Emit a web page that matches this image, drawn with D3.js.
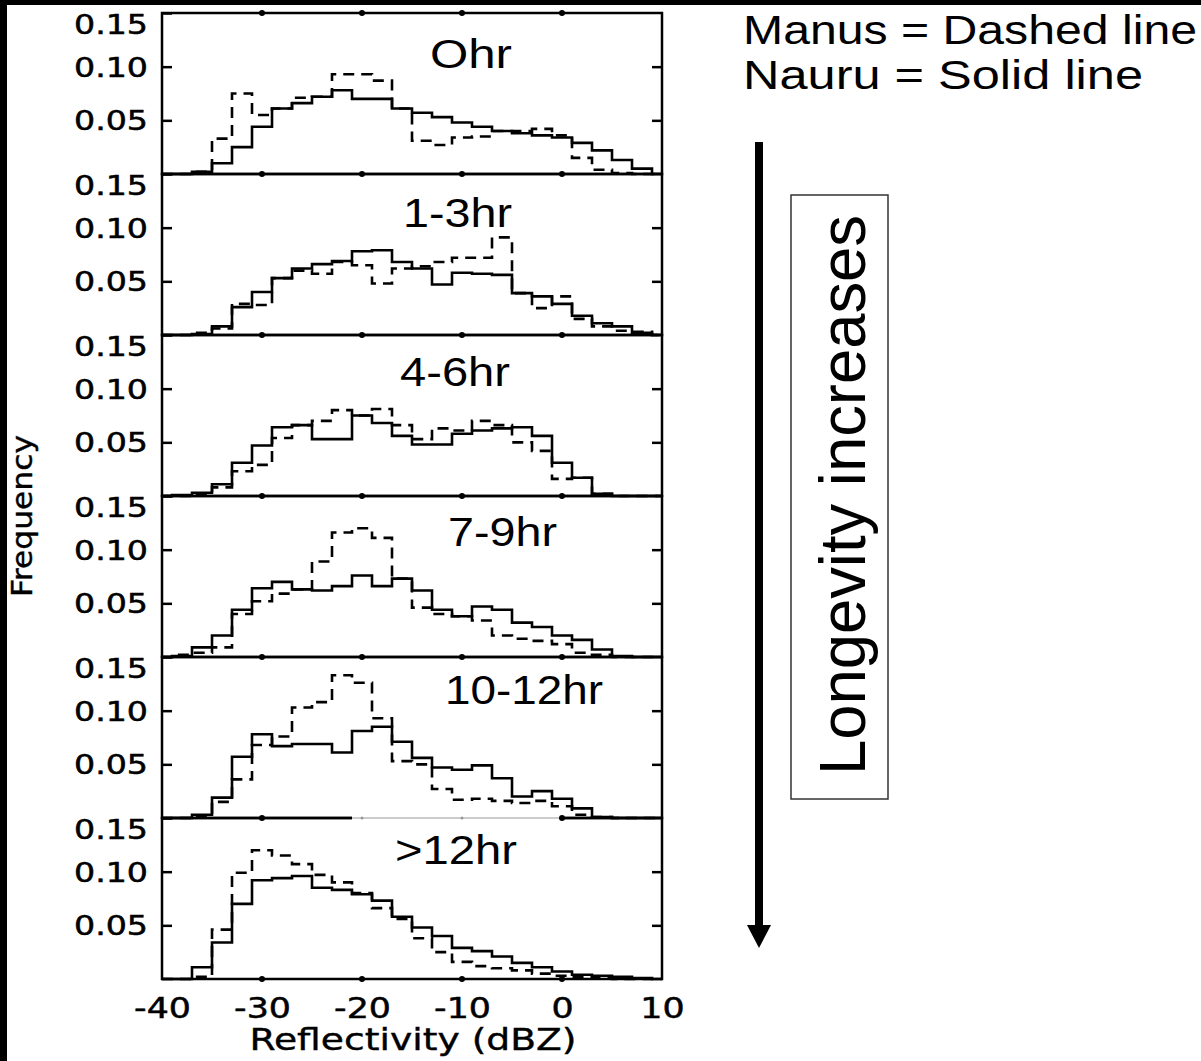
<!DOCTYPE html>
<html>
<head>
  <meta charset="utf-8">
  <script src="https://d3js.org/d3.v7.min.js"></script>
  <style>
    html, body { margin: 0; padding: 0; background: #fff; }
    svg { display: block; }
  </style>
</head>
<body>
  <div id="chart"></div>
  <script>
    // reflectivity bin centres (dBZ), 2 dBZ wide
    var binCenters = [-38, -36, -34, -32, -30, -28, -26, -24, -22, -20, -18, -16,
                      -14, -12, -10, -8, -6, -4, -2, 0, 2, 4, 6, 8];

    var panelLabels = ["Ohr", "1-3hr", "4-6hr", "7-9hr", "10-12hr", ">12hr"];

    // Nauru = solid line
    var nauru0  = [0, 0.002, 0.010, 0.025, 0.044, 0.061, 0.066, 0.072, 0.078, 0.070, 0.070, 0.061, 0.057, 0.053, 0.048, 0.044, 0.040, 0.038, 0.036, 0.034, 0.029, 0.022, 0.013, 0.005];
    var nauru1  = [0, 0.001, 0.008, 0.026, 0.040, 0.053, 0.062, 0.066, 0.069, 0.078, 0.079, 0.068, 0.062, 0.047, 0.058, 0.057, 0.056, 0.039, 0.036, 0.029, 0.018, 0.011, 0.008, 0.002];
    var nauru2  = [0.001, 0.003, 0.011, 0.031, 0.047, 0.064, 0.066, 0.053, 0.053, 0.075, 0.068, 0.056, 0.048, 0.048, 0.058, 0.061, 0.063, 0.064, 0.056, 0.031, 0.017, 0.002, 0, 0];
    var nauru3  = [0.001, 0.009, 0.020, 0.044, 0.064, 0.070, 0.063, 0.062, 0.066, 0.076, 0.066, 0.073, 0.062, 0.044, 0.038, 0.047, 0.044, 0.032, 0.028, 0.020, 0.016, 0.007, 0.001, 0];
    var nauru4  = [0, 0.003, 0.019, 0.057, 0.078, 0.067, 0.069, 0.069, 0.061, 0.081, 0.085, 0.071, 0.056, 0.047, 0.045, 0.049, 0.037, 0.020, 0.025, 0.018, 0.009, 0.001, 0, 0];
    var nauru5  = [0, 0.011, 0.034, 0.070, 0.092, 0.094, 0.096, 0.085, 0.083, 0.079, 0.073, 0.058, 0.048, 0.040, 0.029, 0.026, 0.021, 0.015, 0.011, 0.007, 0.004, 0.003, 0.002, 0.001];

    // Manus = dashed line
    var manus0  = [0, 0.002, 0.033, 0.075, 0.055, 0.061, 0.071, 0.072, 0.093, 0.093, 0.087, 0.061, 0.031, 0.027, 0.034, 0.035, 0.040, 0.040, 0.042, 0.036, 0.015, 0.004, 0.001, 0];
    var manus1  = [0, 0.002, 0.006, 0.029, 0.028, 0.053, 0.060, 0.057, 0.068, 0.065, 0.048, 0.062, 0.064, 0.068, 0.072, 0.072, 0.091, 0.039, 0.025, 0.036, 0.015, 0.008, 0.004, 0.003];
    var manus2  = [0, 0.002, 0.008, 0.023, 0.029, 0.054, 0.066, 0.070, 0.080, 0.075, 0.081, 0.066, 0.053, 0.063, 0.061, 0.070, 0.066, 0.050, 0.042, 0.016, 0.017, 0.002, 0, 0];
    var manus3  = [0.002, 0.004, 0.009, 0.040, 0.052, 0.059, 0.063, 0.089, 0.116, 0.120, 0.111, 0.073, 0.046, 0.040, 0.038, 0.034, 0.020, 0.017, 0.015, 0.012, 0.004, 0.002, 0, 0];
    var manus4  = [0, 0.002, 0.015, 0.036, 0.068, 0.076, 0.103, 0.108, 0.133, 0.126, 0.093, 0.053, 0.050, 0.027, 0.017, 0.018, 0.016, 0.014, 0.016, 0.011, 0.003, 0.001, 0, 0];
    var manus5  = [0, 0.002, 0.046, 0.099, 0.120, 0.115, 0.107, 0.097, 0.090, 0.080, 0.066, 0.056, 0.038, 0.025, 0.016, 0.012, 0.010, 0.008, 0.005, 0.003, 0.002, 0.001, 0, 0];

    var xTicks = [-40, -30, -20, -10, 0, 10];
    var xDots = [-30, -20, -10, 0];
    var yTicks = [0.05, 0.10, 0.15];

    var nauru = [nauru0, nauru1, nauru2, nauru3, nauru4, nauru5];
    var manus = [manus0, manus1, manus2, manus3, manus4, manus5];

    var width = 1201, height = 1061;
    var top0 = 13, panelH = 161;
    var chartFont = "'DejaVu Sans', sans-serif";
    var textFont = "'Liberation Sans', Arial, sans-serif";

    // label boxes in the picture (x start, x end, baseline)
    var labelPos = [[430, 512, 68], [403, 512, 227], [400, 510, 386], [448, 557, 546], [445, 603, 704], [395, 517, 864]];

    var svg = d3.select("#chart")
      .append("svg")
      .attr("width", width)
      .attr("height", height);

    svg.append("rect").attr("width", width).attr("height", height).attr("fill", "#fff");

    var x = d3.scaleLinear().domain([-40, 10]).range([162, 662]);
    var y = d3.scaleLinear().domain([0, 0.15]).range([panelH, 0]);

    // step outline through bin edges
    function stepPoints(vals) {
      var pts = [[-40, 0]];
      binCenters.forEach((c, i) => pts.push([c - 1, vals[i]]));
      pts.push([binCenters[binCenters.length - 1] + 1, 0]);
      pts.push([10, 0]);
      return pts;
    }

    var line = d3.line()
      .x(d => x(d[0]))
      .y(d => y(d[1]))
      .curve(d3.curveStepAfter);

    panelLabels.forEach((label, i) => {
      var g = svg.append("g")
        .attr("transform", "translate(0," + (top0 + i * panelH) + ")");

      // left axis with labels
      var ax = g.append("g")
        .attr("transform", "translate(" + x(-40) + ",0)")
        .call(d3.axisLeft(y).tickValues(yTicks).tickFormat(d3.format(".2f")).tickSizeInner(-10).tickPadding(14));
      ax.select(".domain").remove();
      ax.selectAll("line").attr("stroke", "#000").attr("stroke-width", 2.5);
      ax.selectAll("text")
        .attr("font-family", chartFont)
        .attr("font-size", 26)
        .attr("fill", "#000")
        .attr("stroke", "#000")
        .attr("stroke-width", 0.5)
        .attr("textLength", 74)
        .attr("lengthAdjust", "spacingAndGlyphs")
        .attr("dy", d => d === 0.15 ? "0.78em" : "0.36em");

      // right axis ticks
      var ar = g.append("g")
        .attr("transform", "translate(" + x(10) + ",0)")
        .call(d3.axisRight(y).tickValues([0.05, 0.10]).tickSizeInner(-10).tickFormat(""));
      ar.select(".domain").remove();
      ar.selectAll("line").attr("stroke", "#000").attr("stroke-width", 2.5);

      // Manus (dashed)
      g.append("path")
        .datum(stepPoints(manus[i]))
        .attr("fill", "none")
        .attr("stroke", "#000")
        .attr("stroke-width", 2.6)
        .attr("stroke-dasharray", "11 7")
        .attr("d", line);

      // Nauru (solid)
      g.append("path")
        .datum(stepPoints(nauru[i]))
        .attr("fill", "none")
        .attr("stroke", "#000")
        .attr("stroke-width", 2.6)
        .attr("d", line);

      // frame
      g.append("rect")
        .attr("x", x(-40))
        .attr("y", 0)
        .attr("width", x(10) - x(-40))
        .attr("height", panelH)
        .attr("fill", "none")
        .attr("stroke", "#000")
        .attr("stroke-width", 2.5);

      // panel label
      var p = labelPos[i];
      svg.append("text")
        .attr("x", p[0])
        .attr("y", p[2])
        .attr("font-family", textFont)
        .attr("font-size", 40)
        .attr("textLength", p[1] - p[0])
        .attr("lengthAdjust", "spacingAndGlyphs")
        .text(label);
    });

    // pasted-over strip on the top border of the last panel
    var lastTop = top0 + (panelLabels.length - 1) * panelH;
    svg.append("rect")
      .attr("x", 352).attr("y", lastTop - 3)
      .attr("width", 211).attr("height", 6)
      .attr("fill", "#fff");
    svg.append("line")
      .attr("x1", 352).attr("x2", 563)
      .attr("y1", lastTop).attr("y2", lastTop)
      .attr("stroke", "#999")
      .attr("stroke-width", 1);

    // x tick dots on every panel border
    d3.range(panelLabels.length + 1).forEach(k => {
      svg.selectAll(null)
        .data(xDots)
        .enter()
        .append("circle")
        .attr("cx", d => x(d))
        .attr("cy", top0 + k * panelH)
        .attr("r", d => (k === panelLabels.length - 1 && d > -30 && d < 0) ? 1.5 : 3)
        .attr("fill", d => (k === panelLabels.length - 1 && d > -30 && d < 0) ? "#999" : "#000");
    });

    // bottom axis labels
    var bottom = top0 + panelLabels.length * panelH;
    var axb = svg.append("g")
      .attr("transform", "translate(0," + bottom + ")")
      .call(d3.axisBottom(x).tickValues(xTicks).tickSize(0).tickPadding(18).tickFormat(d => String(d)));
    axb.select(".domain").remove();
    axb.selectAll("text")
      .attr("font-family", chartFont)
      .attr("font-size", 29)
      .attr("fill", "#000")
      .attr("stroke", "#000")
      .attr("stroke-width", 0.5)
      .attr("transform", "scale(1.2,1)");

    svg.append("text")
      .attr("x", 413)
      .attr("y", 1050)
      .attr("text-anchor", "middle")
      .attr("font-family", chartFont)
      .attr("font-size", 30)
      .attr("stroke", "#000")
      .attr("stroke-width", 0.4)
      .attr("textLength", 327)
      .attr("lengthAdjust", "spacingAndGlyphs")
      .text("Reflectivity (dBZ)");

    svg.append("text")
      .attr("transform", "translate(32,516) rotate(-90)")
      .attr("text-anchor", "middle")
      .attr("font-family", chartFont)
      .attr("font-size", 28)
      .attr("stroke", "#000")
      .attr("stroke-width", 0.4)
      .attr("textLength", 162)
      .attr("lengthAdjust", "spacingAndGlyphs")
      .text("Frequency");

    // legend text
    svg.append("text")
      .attr("x", 743).attr("y", 44)
      .attr("font-family", textFont)
      .attr("font-size", 40)
      .attr("textLength", 454)
      .attr("lengthAdjust", "spacingAndGlyphs")
      .text("Manus = Dashed line");

    svg.append("text")
      .attr("x", 743).attr("y", 89)
      .attr("font-family", textFont)
      .attr("font-size", 40)
      .attr("textLength", 400)
      .attr("lengthAdjust", "spacingAndGlyphs")
      .text("Nauru = Solid line");

    // longevity arrow
    svg.append("line")
      .attr("x1", 759).attr("y1", 142)
      .attr("x2", 759).attr("y2", 928)
      .attr("stroke", "#000")
      .attr("stroke-width", 8);

    svg.append("path")
      .attr("d", "M747,925L771,925L759,948Z")
      .attr("fill", "#000");

    svg.append("rect")
      .attr("x", 791).attr("y", 195)
      .attr("width", 97).attr("height", 604)
      .attr("fill", "none")
      .attr("stroke", "#333")
      .attr("stroke-width", 1.5);

    svg.append("text")
      .attr("transform", "translate(865,775) rotate(-90)")
      .attr("font-family", textFont)
      .attr("font-size", 64)
      .attr("textLength", 560)
      .attr("lengthAdjust", "spacingAndGlyphs")
      .text("Longevity increases");

    // black edges of the scanned figure
    svg.append("rect").attr("x", 0).attr("y", 0).attr("width", width).attr("height", 5).attr("fill", "#000");
    svg.append("rect").attr("x", 0).attr("y", 0).attr("width", 7).attr("height", height).attr("fill", "#000");
  </script>
</body>
</html>
